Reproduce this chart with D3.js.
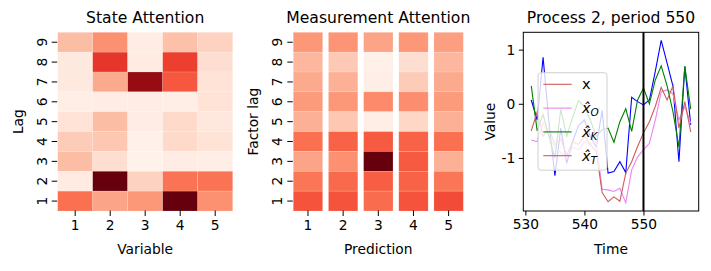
<!DOCTYPE html>
<html>
<head>
<meta charset="utf-8">
<script src="https://cdn.jsdelivr.net/npm/d3@7"></script>
<style>
  body { margin: 0; background: #fff; }
  text { font-family: "DejaVu Sans", sans-serif; fill: #000; }
</style>
</head>
<body>
<svg id="canvas" width="711" height="271"></svg>
<script>
// heatmap data, rows are lag 9 (top) down to lag 1
let lags = [9, 8, 7, 6, 5, 4, 3, 2, 1]
let variables = [1, 2, 3, 4, 5]

let stateAtt = [
    [0.24, 0.38, 0.05, 0.23, 0.17],
    [0.07, 0.65, 0.06, 0.62, 0.12],
    [0.07, 0.30, 0.90, 0.55, 0.10],
    [0.04, 0.05, 0.05, 0.04, 0.10],
    [0.10, 0.24, 0.05, 0.14, 0.08],
    [0.19, 0.21, 0.03, 0.14, 0.10],
    [0.24, 0.12, 0.02, 0.05, 0.04],
    [0.06, 1.00, 0.17, 0.47, 0.47],
    [0.48, 0.32, 0.36, 1.00, 0.38]
]

let measAtt = [
    [0.36, 0.37, 0.32, 0.36, 0.34],
    [0.26, 0.20, 0.03, 0.12, 0.26],
    [0.30, 0.28, 0.04, 0.19, 0.30],
    [0.35, 0.36, 0.40, 0.39, 0.35],
    [0.28, 0.21, 0.04, 0.15, 0.28],
    [0.48, 0.52, 0.54, 0.52, 0.48],
    [0.32, 0.38, 1.00, 0.54, 0.28],
    [0.46, 0.50, 0.53, 0.52, 0.46],
    [0.56, 0.56, 0.49, 0.56, 0.58]
]

// process series
let time = [531, 532, 533, 534, 535, 536, 537, 538, 539, 540, 541, 542, 543, 544,
            545, 546, 547, 548, 549, 550, 551, 552, 553, 554, 555, 556, 557, 558]
let xTrue = [0.07, -0.3, 0.86, -0.35, -1.33, -0.45, -1.1, -0.7, -0.4, -0.3, -0.6, -0.8, -0.12, -1.28,
             -1.25, -1.07, -1.27, 0.12, 0.04, -0.02, 0.07, 0.6, 1.17, 0.75, 0.32, -1.07, 0.69, -0.39]
let xO = [-0.67, -0.7, -0.35, -0.6, -0.8, -0.9, -1.0, -0.8, -0.85, -0.7, -0.75, -0.7, -1.58, -1.59,
          -1.62, -1.56, -1.83, -1.22, -0.98, -0.85, -0.73, -0.3, 0.22, 0.26, 0.18, -0.3, -0.05, -0.36]
let xK = [0.33, -0.5, -0.2, -0.6, -1.0, -0.1, -0.6, -0.25, 0.06, -0.05, -0.3, -0.6, -0.48, -0.45,
          -0.71, -0.33, -0.09, -0.51, 0.07, 0.29, 0.0, 0.44, 0.7, 0.33, -0.15, -0.8, 0.69, -0.1]
let xT = [-0.5, -0.15, -0.6, -0.45, -0.75, -0.65, -0.95, -0.7, -0.75, -0.6, -0.75, -0.88, -1.64, -1.81,
          -1.72, -1.8, -1.28, -1.07, -0.79, -0.54, -0.33, -0.05, 0.3, 0.07, 0.33, -0.45, 0.04, -0.52]
let xTicks = [530, 540, 550]
let yTicks = [-1, 0, 1]
let markTime = 550

let canvas = d3.select("#canvas")
let color = d3.scaleSequential(d3.interpolateReds).domain([0, 1])

let drawHeatmap = (data, x0, x1, pad, title, xLabel, yLabel) => {
    let top = 32.3, bottom = 211
    let xScale = d3.scaleBand().domain(variables).range([x0, x1]).paddingInner(pad)
    let yScale = d3.scaleBand().domain(lags).range([top, bottom])
    let g = canvas.append("g")

    lags.forEach((lag, r) => {
        g.selectAll(null)
            .data(data[r])
            .enter()
            .append("rect")
            .attr("x", (v, c) => xScale(variables[c]))
            .attr("y", yScale(lag))
            .attr("width", xScale.bandwidth())
            .attr("height", yScale.bandwidth())
            .attr("fill", v => color(v))
            .attr("stroke", "rgba(255,255,255,0.25)")
            .attr("stroke-width", 0.6)
    })

    let xAxis = d3.axisBottom(xScale).tickSize(5.5).tickPadding(4)
    g.append("g")
        .attr("transform", "translate(0," + (bottom - 0.5) + ")")
        .call(xAxis)
        .call(a => a.select(".domain").remove())
        .selectAll("text").style("font-size", "13.8px")

    let yAxis = d3.axisLeft(yScale).tickSize(5.5).tickPadding(0)
    let ya = g.append("g")
        .attr("transform", "translate(" + (x0 - 0.5) + ",0)")
        .call(yAxis)
    ya.select(".domain").remove()
    ya.selectAll("text")
        .style("font-size", "13.8px")
        .attr("text-anchor", "middle")
        .attr("x", 0).attr("dy", 0)
        .attr("transform", "translate(-14.5,0) rotate(-90)")
        .attr("dominant-baseline", "middle")
    g.selectAll(".tick line").attr("stroke", "#000").attr("stroke-width", 1)

    g.append("text").attr("x", (x0 + x1) / 2).attr("y", 23)
        .attr("text-anchor", "middle").style("font-size", "15.6px").text(title)
    g.append("text").attr("x", (x0 + x1) / 2).attr("y", 254)
        .attr("text-anchor", "middle").style("font-size", "13.8px").text(xLabel)
    g.append("text")
        .attr("transform", "translate(" + (x0 - 35) + "," + ((top + bottom) / 2) + ") rotate(-90)")
        .attr("text-anchor", "middle").style("font-size", "13.8px").text(yLabel)
}

drawHeatmap(stateAtt, 57.7, 232.7, 0, "State Attention", "Variable", "Lag")
drawHeatmap(measAtt, 293.3, 463.3, 0.165, "Measurement Attention", "Prediction", "Factor lag")

// line chart
let drawLines = () => {
    let left = 523.3, right = 698.7, top = 32.3, bottom = 211
    let all = xTrue.concat(xO, xK, xT)
    let tMin = d3.min(time), tMax = d3.max(time)
    let vMin = d3.min(all), vMax = d3.max(all)
    let tm = (tMax - tMin) * 0.05, vm = (vMax - vMin) * 0.05
    let xScale = d3.scaleLinear().domain([tMin - tm, tMax + tm]).range([left, right])
    let yScale = d3.scaleLinear().domain([vMin - vm, vMax + vm]).range([bottom, top])
    let g = canvas.append("g")

    let series = [
        { vals: xTrue, color: "blue" },
        { vals: xO, color: "violet" },
        { vals: xK, color: "green" },
        { vals: xT, color: "indianred" }
    ]
    let line = d3.line().x((v, i) => xScale(time[i])).y(v => yScale(v))
    g.selectAll(".series")
        .data(series)
        .enter()
        .append("path")
        .attr("d", s => line(s.vals))
        .attr("fill", "none")
        .attr("stroke", s => s.color)
        .attr("stroke-width", 1.1)

    g.append("line")
        .attr("x1", xScale(markTime)).attr("x2", xScale(markTime))
        .attr("y1", top).attr("y2", bottom)
        .attr("stroke", "#000").attr("stroke-width", 2)

    // legend
    let lg = g.append("g")
    lg.append("rect").attr("x", 538).attr("y", 72.7).attr("width", 69).attr("height", 97.5)
        .attr("rx", 3).attr("fill", "rgba(255,255,255,0.8)").attr("stroke", "#d0d0d0")
    let entries = [
        { name: "x", sub: "", hat: false, color: "indianred" },
        { name: "x", sub: "O", hat: true, color: "violet" },
        { name: "x", sub: "K", hat: true, color: "green" },
        { name: "x", sub: "T", hat: true, color: "indianred" }
    ]
    entries.forEach((e, i) => {
        let y = 84.3 + i * 23.8
        lg.append("line").attr("x1", 543.3).attr("x2", 571.7).attr("y1", y).attr("y2", y)
            .attr("stroke", e.color).attr("stroke-width", 1.1)
        let t = lg.append("text").attr("x", 582).attr("y", y + 5).style("font-size", "14.5px")
        if (e.hat) {
            t.append("tspan").style("font-style", "italic").text("x\u0302")
            t.append("tspan").attr("dy", 3).style("font-size", "10.5px").style("font-style", "italic").text(e.sub)
        } else {
            t.text(e.name)
        }
    })

    g.append("rect").attr("x", left).attr("y", top).attr("width", right - left).attr("height", bottom - top)
        .attr("fill", "none").attr("stroke", "#000").attr("stroke-width", 1)

    g.append("g").attr("transform", "translate(0," + bottom + ")")
        .call(d3.axisBottom(xScale).tickValues(xTicks).tickSize(4.5).tickPadding(3.5))
        .call(a => a.select(".domain").remove())
        .selectAll("text").style("font-size", "13.8px")
    g.append("g").attr("transform", "translate(" + left + ",0)")
        .call(d3.axisLeft(yScale).tickValues(yTicks).tickSize(4.5).tickPadding(3.5).tickFormat(d => d < 0 ? "-" + (-d) : d))
        .call(a => a.select(".domain").remove())
        .selectAll("text").style("font-size", "13.8px")
    g.selectAll(".tick line").attr("stroke", "#000")

    g.append("text").attr("x", (left + right) / 2).attr("y", 23)
        .attr("text-anchor", "middle").style("font-size", "15.6px").text("Process 2, period 550")
    g.append("text").attr("x", (left + right) / 2).attr("y", 254)
        .attr("text-anchor", "middle").style("font-size", "13.8px").text("Time")
    g.append("text")
        .attr("transform", "translate(495," + ((top + bottom) / 2) + ") rotate(-90)")
        .attr("text-anchor", "middle").style("font-size", "13.8px").text("Value")
}

drawLines()
</script>
</body>
</html>
